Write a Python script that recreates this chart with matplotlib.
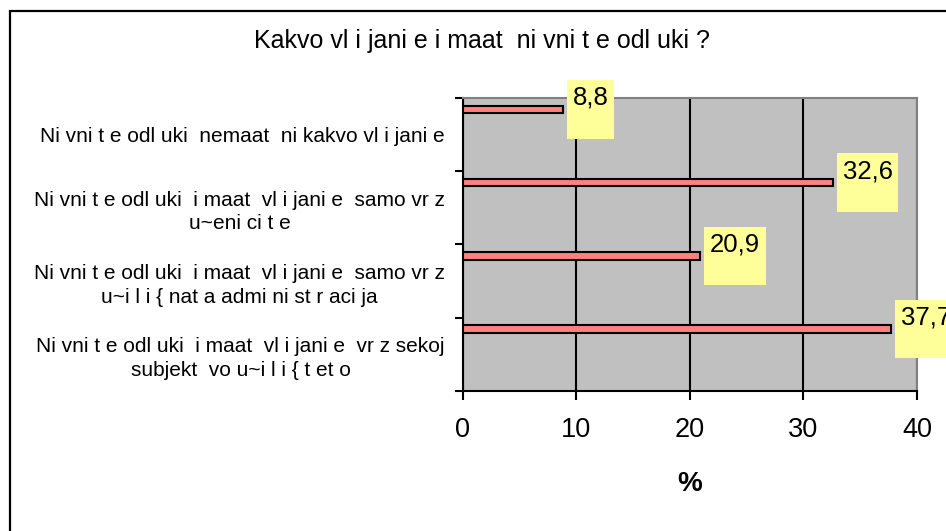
import matplotlib
matplotlib.use("Agg")
import matplotlib.pyplot as plt
from matplotlib.patches import Rectangle

# Data (bottom category first)
categories = [
    "Ni vni t e odl uki  i maat  vl i jani e  vr z sekoj\nsubjekt  vo u~i l i { t et o",
    "Ni vni t e odl uki  i maat  vl i jani e  samo vr z\nu~i l i { nat a admi ni st r aci ja",
    "Ni vni t e odl uki  i maat  vl i jani e  samo vr z\nu~eni ci t e",
    "Ni vni t e odl uki  nemaat  ni kakvo vl i jani e",
]
values = [37.7, 20.9, 32.6, 8.8]
value_labels = ["37,7", "20,9", "32,6", "8,8"]
xticks = [0, 10, 20, 30, 40]
title = "Kakvo vl i jani e i maat  ni vni t e odl uki ?"

plt.rcParams['font.family'] = ['Liberation Sans', 'DejaVu Sans']

fig = plt.figure(figsize=(9.46, 5.31), dpi=100)
ax = fig.add_axes([0.4894, 0.2637, 0.4799, 0.5517])

# outer chart border (runs off the right and bottom edges)
fig.patches.append(Rectangle((10 / 946, -0.1), 1.2, 1.1 - 11 / 531,
                             transform=fig.transFigure, fill=False,
                             edgecolor="black", linewidth=1.6))

ax.set_facecolor("#C0C0C0")
pos = range(len(categories))
bar_y = [p + 0.345 for p in pos]
ax.barh(bar_y, values, height=0.1, color="#FF8080", edgecolor="black",
        linewidth=1.5, zorder=3)

for y, v, lab in zip(bar_y, values, value_labels):
    ax.annotate(lab + "\n", xy=(v, y), xytext=(7, 0), textcoords="offset points",
                ha="left", va="center", fontsize=18.5, linespacing=0.95,
                annotation_clip=False, zorder=4,
                bbox=dict(boxstyle="square,pad=0.22", facecolor="#FFFF99",
                          edgecolor="none"))

ax.set_xlim(0, 40)
ax.set_ylim(-0.5, 3.5)
ax.set_xticks(xticks)
ax.set_xticklabels([str(t) for t in xticks], fontsize=19.5)
ax.set_yticks(list(pos))
ax.set_yticklabels(categories, fontsize=15, ha="right", multialignment="center",
                   linespacing=1.3)
ax.set_yticks([p - 0.5 for p in range(len(categories) + 1)], minor=True)
ax.tick_params(axis="y", which="major", length=0, pad=13)
ax.tick_params(axis="y", which="minor", length=6, width=1.5, direction="out")
ax.tick_params(axis="x", which="major", length=6.5, width=1.5, direction="out", pad=12.5)

ax.grid(axis="x", color="black", linewidth=1.5, zorder=1)
ax.set_axisbelow(True)
for s in ["left", "bottom"]:
    ax.spines[s].set_color("black")
    ax.spines[s].set_linewidth(1.5)
for s in ["top", "right"]:
    ax.spines[s].set_color("#808080")
    ax.spines[s].set_linewidth(1.5)

ax.set_xlabel("%", fontsize=20, fontweight="bold", labelpad=20)
fig.text(482 / 946, 1 - 41 / 531, title, ha="center", va="center", fontsize=18)

fig.savefig("out.png", dpi=100)
